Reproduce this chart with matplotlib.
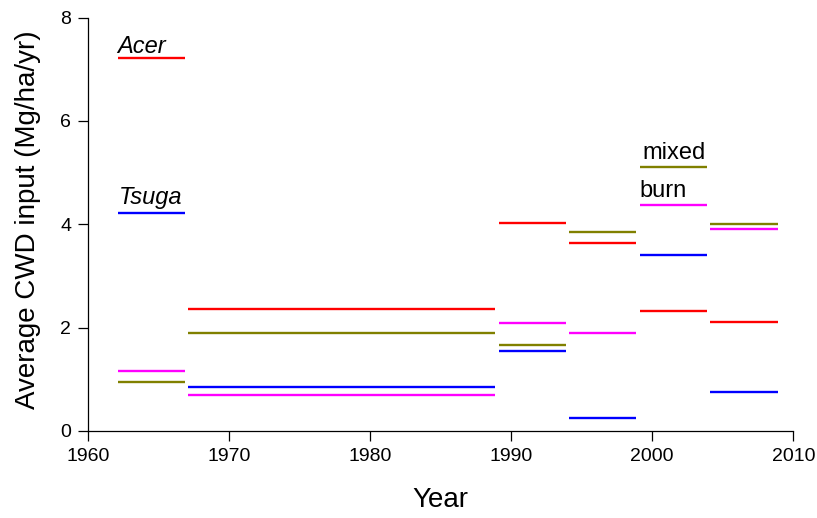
import matplotlib.pyplot as plt

plt.rcParams['font.family'] = ['Liberation Sans', 'DejaVu Sans']

# sampling periods (start, end year)
period_start = [1962, 1967, 1989, 1994, 1999, 2004]
period_end = [1967, 1989, 1994, 1999, 2004, 2009]

# average CWD input per period (Mg/ha/yr)
acer = [7.21, 2.37, 4.03, 3.63, 2.33, 2.11]
tsuga = [4.22, 0.86, 1.55, 0.25, 3.41, 0.75]
mixed = [0.94, 1.89, 1.66, 3.85, 5.10, 4.00]
burn = [1.16, 0.70, 2.09, 1.89, 4.37, 3.90]

fig = plt.figure(figsize=(8.17, 5.18), dpi=100)
ax = fig.add_axes([0.1077, 0.168, 0.8633, 0.798])

gap = 0.12
for vals, col in [(acer, '#ff0000'), (tsuga, '#0000ff'),
                  (mixed, '#808000'), (burn, '#ff00ff')]:
    ax.hlines(vals, [s + gap for s in period_start],
              [e - gap for e in period_end], colors=col, lw=1.7)

ax.text(1962.1, 7.32, 'Acer', fontsize=17, style='italic', va='baseline')
ax.text(1962.2, 4.39, 'Tsuga', fontsize=17, style='italic', va='baseline')
ax.text(1999.3, 5.26, 'mixed', fontsize=17, va='baseline')
ax.text(1999.1, 4.53, 'burn', fontsize=17, va='baseline')

ax.set_xlim(1960, 2010)
ax.set_ylim(0, 8)
ax.set_xticks([1960, 1970, 1980, 1990, 2000, 2010])
ax.set_yticks([0, 2, 4, 6, 8])
ax.tick_params(direction='out', length=7, width=0.9, labelsize=14, pad=5)
for side in ['top', 'right']:
    ax.spines[side].set_visible(False)
for side in ['left', 'bottom']:
    ax.spines[side].set_linewidth(0.9)

ax.set_xlabel('Year', fontsize=20, labelpad=16)
ax.set_ylabel('Average CWD input (Mg/ha/yr)', fontsize=20)
ax.yaxis.set_label_coords(-0.066, 0.512)

fig.savefig('out.png', dpi=100)
